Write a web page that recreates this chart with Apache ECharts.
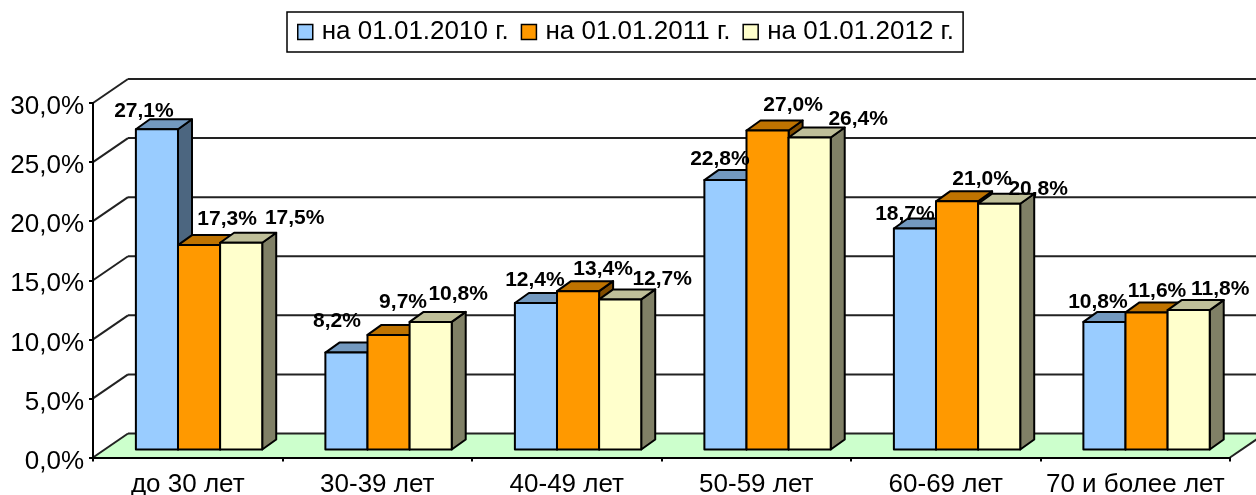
<!DOCTYPE html>
<html>
<head>
<meta charset="utf-8">
<title>Chart</title>
<script src="https://cdn.jsdelivr.net/npm/echarts@6/dist/echarts.min.js"></script>
<style>
html,body{margin:0;padding:0;background:#fff;}
#chart{width:1256px;height:495px;}
</style>
</head>
<body>
<div id="chart"></div>
<script>
var categories = ['до 30 лет', '30-39 лет', '40-49 лет', '50-59 лет', '60-69 лет', '70 и более лет'];
var yTicks = [0, 5, 10, 15, 20, 25, 30];
var seriesNames = ['на 01.01.2010 г.', 'на 01.01.2011 г.', 'на 01.01.2012 г.'];
var values2010 = [27.1, 8.2, 12.4, 22.8, 18.7, 10.8];
var values2011 = [17.3, 9.7, 13.4, 27.0, 21.0, 11.6];
var values2012 = [17.5, 10.8, 12.7, 26.4, 20.8, 11.8];

// подписи в оригинале сдвинуты вручную, поэтому сдвиг у каждой свой
var labelShiftX = [
    [-13, -9.5, -1, -5.5, -10, -6.5],
    [28, 14.5, 25, 25.5, 25, 10.5],
    [53.5, 27.5, 42, 48.5, 39, 31.5]
];
var labelShiftY = [
    [-18, -31, -23, -21, -14, -20],
    [-26, -33, -22, -25, -22, -21],
    [-25, -28, -20, -18, -15, -21]
];

var fills = ['#99CCFF', '#FF9900', '#FFFFCC'];
var tops = ['#7399BF', '#BF7300', '#BFBF99'];
var sides = ['#4C6680', '#804C00', '#808066'];

// глубина стенки и столбиков
var wallDX = 35, wallDY = -24;
var barDX = 14, barDY = -10;
var barShiftX = 11.3, barShiftY = -8;

function pct(v) {
    return v.toFixed(1).replace('.', ',') + '%';
}

function poly(points, fill, z2) {
    return {
        type: 'polygon',
        z2: z2 || 0,
        shape: {points: points},
        style: {fill: fill, stroke: '#000', lineWidth: 2, lineJoin: 'round'}
    };
}

function line(x1, y1, x2, y2) {
    return {
        type: 'line',
        shape: {x1: x1, y1: y1, x2: x2, y2: y2},
        style: {stroke: '#222', lineWidth: 2}
    };
}

function renderWall(params, api) {
    var tick = api.value(1);
    var p = api.coord([0, tick]);
    var band = api.size([1, 0])[0];
    var left = p[0] - band / 2;
    var right = api.coord([categories.length - 1, tick])[0] + band / 2;
    var y = p[1];
    var items = [];
    if (tick === 0) {
        items.push({
            type: 'polygon',
            shape: {points: [[left, y], [right, y], [right + wallDX, y + wallDY], [left + wallDX, y + wallDY]]},
            style: {fill: '#CCFFCC'}
        });
        items.push(line(right, y, right + wallDX, y + wallDY));
    }
    items.push(line(left, y, left + wallDX, y + wallDY));
    items.push(line(left + wallDX, y + wallDY, right + wallDX, y + wallDY));
    return {type: 'group', children: items};
}

function makeBarRender(n) {
    return function (params, api) {
        var i = api.value(0);
        var v = api.value(1);
        var band = api.size([1, 0])[0];
        var w = band / 4.5;
        var c = api.coord([i, v]);
        var base = api.coord([i, 0])[1] + barShiftY;
        var top = c[1] + barShiftY;
        var x0 = c[0] + barShiftX + (n - 1.5) * w;
        var x1 = x0 + w;
        return {
            type: 'group',
            children: [
                poly([[x1, top], [x1 + barDX, top + barDY], [x1 + barDX, base + barDY], [x1, base]], sides[n]),
                poly([[x0, top], [x0 + barDX, top + barDY], [x1 + barDX, top + barDY], [x1, top]], tops[n]),
                poly([[x0, top], [x1, top], [x1, base], [x0, base]], fills[n]),
                {
                    type: 'text',
                    z2: 100,
                    style: {
                        x: x0 + w / 2 + labelShiftX[n][i],
                        y: top + labelShiftY[n][i],
                        text: pct(v),
                        fill: '#000',
                        font: 'bold 21px "Liberation Sans", Arial, sans-serif',
                        textAlign: 'center',
                        textVerticalAlign: 'middle'
                    }
                }
            ]
        };
    };
}

function pairs(arr) {
    return arr.map(function (v, i) {
        return [i, v];
    });
}

var valueLists = [values2010, values2011, values2012];

var series = [{
    type: 'custom',
    z: 1,
    silent: true,
    renderItem: renderWall,
    data: yTicks.map(function (t) {
        return [0, t];
    })
}];
valueLists.forEach(function (list, n) {
    series.push({
        type: 'custom',
        name: seriesNames[n],
        z: 2,
        renderItem: makeBarRender(n),
        itemStyle: {color: fills[n]},
        data: pairs(list)
    });
});

var chart = echarts.init(document.getElementById('chart'), null, {renderer: 'canvas'});
chart.setOption({
    animation: false,
    backgroundColor: '#fff',
    textStyle: {fontFamily: '"Liberation Sans", Arial, sans-serif'},
    grid: {left: 93, right: 26, top: 103, bottom: 37.5, outerBoundsMode: 'none'},
    legend: {
        data: seriesNames,
        left: 287,
        top: 12,
        icon: 'rect',
        itemWidth: 15,
        itemHeight: 15,
        itemGap: 12,
        padding: [7, 9, 7, 10],
        borderColor: '#000',
        borderWidth: 1.5,
        itemStyle: {borderColor: '#000', borderWidth: 1.5},
        textStyle: {fontSize: 26, color: '#000', padding: [0, 0, 0, 4]}
    },
    xAxis: {
        type: 'category',
        data: categories,
        z: 10,
        axisLine: {lineStyle: {color: '#000', width: 2}},
        axisTick: {show: true, length: 4, alignWithLabel: false, lineStyle: {color: '#000', width: 2}},
        axisLabel: {fontSize: 26, color: '#000', margin: 14, interval: 0}
    },
    yAxis: {
        type: 'value',
        min: 0,
        max: 30,
        interval: 5,
        z: 10,
        splitLine: {show: false},
        axisLine: {show: true, lineStyle: {color: '#000', width: 2}},
        axisTick: {show: true, length: 4, lineStyle: {color: '#000', width: 2}},
        axisLabel: {fontSize: 26, color: '#000', margin: 9, verticalAlign: 'top', lineHeight: 8, formatter: pct}
    },
    series: series
});
</script>
</body>
</html>
